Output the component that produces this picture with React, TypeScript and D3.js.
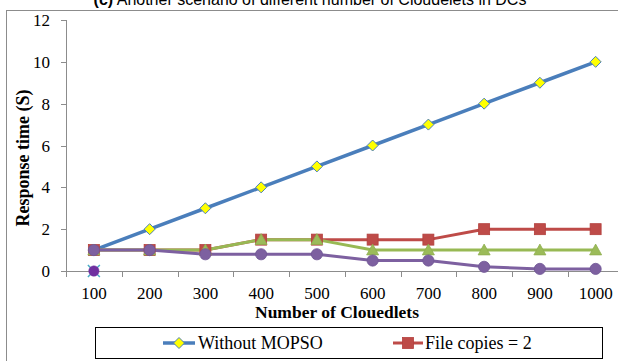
import React from "react";
import * as d3 from "d3";

// Number of cloudlets on the x axis
const categories = ["100", "200", "300", "400", "500", "600", "700", "800", "900", "1000"];

// Response time (S) per series
const withoutMopso = [1, 2, 3, 4, 5, 6, 7, 8, 9, 10];
const fileCopies2 = [1, 1, 1, 1.5, 1.5, 1.5, 1.5, 2, 2, 2];
const fileCopies3 = [1, 1, 1, 1.5, 1.5, 1, 1, 1, 1, 1];
const fileCopies4 = [1, 1, 0.8, 0.8, 0.8, 0.5, 0.5, 0.2, 0.1, 0.1];
const extraA: (number | null)[] = [0, null, null, null, null, null, null, null, null, null];
const extraB: (number | null)[] = [0, null, null, null, null, null, null, null, null, null];

const yTicks = [0, 2, 4, 6, 8, 10, 12];

const W = 618;
const H = 361;
const serif = "Liberation Serif, Times New Roman, serif";

type Marker = "diamond" | "square" | "triangle" | "circle" | "x" | "dot";

function MarkerShape({ kind, x, y, fill, stroke }: { kind: Marker; x: number; y: number; fill: string; stroke: string }) {
  if (kind === "diamond") {
    const s = 5.5;
    return <path d={`M${x},${y - s}L${x + s},${y}L${x},${y + s}L${x - s},${y}Z`} fill={fill} stroke={stroke} strokeWidth={1} />;
  }
  if (kind === "square") {
    const s = 5.5;
    return <rect x={x - s} y={y - s} width={2 * s} height={2 * s} fill={fill} stroke={stroke} strokeWidth={0.8} />;
  }
  if (kind === "triangle") {
    const s = 6;
    return <path d={`M${x},${y - s}L${x + s},${y + s * 0.8}L${x - s},${y + s * 0.8}Z`} fill={fill} stroke={stroke} strokeWidth={0.8} />;
  }
  if (kind === "circle") {
    return <circle cx={x} cy={y} r={5.6} fill={fill} stroke={stroke} strokeWidth={0.8} />;
  }
  if (kind === "x") {
    const s = 6;
    return (
      <path d={`M${x - s},${y - s}L${x + s},${y + s}M${x + s},${y - s}L${x - s},${y + s}`} stroke={stroke} strokeWidth={1.5} fill="none" />
    );
  }
  return <circle cx={x} cy={y} r={5.2} fill={fill} stroke={stroke} strokeWidth={0.5} />;
}

export default function App() {
  const x = d3.scaleBand<string>().domain(categories).range([66, 623.5]).padding(0);
  const y = d3.scaleLinear().domain([0, 12]).range([271, 20]);
  const cx = (c: string) => (x(c) ?? 0) + x.bandwidth() / 2;

  const series: { name: string; values: (number | null)[]; line: string; fill: string; stroke: string; width: number; marker: Marker }[] = [
    { name: "Without MOPSO", values: withoutMopso, line: "#4A7EBB", fill: "#FFFF00", stroke: "#4A7EBB", width: 3.5, marker: "diamond" },
    { name: "File copies = 2", values: fileCopies2, line: "#BE4B48", fill: "#BE4B48", stroke: "#B3403D", width: 3, marker: "square" },
    { name: "File copies = 3", values: fileCopies3, line: "#98B954", fill: "#9BBB59", stroke: "#8FAF4F", width: 3, marker: "triangle" },
    { name: "File copies = 4", values: fileCopies4, line: "#7D60A0", fill: "#7D60A0", stroke: "#6F5594", width: 3, marker: "circle" },
    { name: "extra A", values: extraA, line: "none", fill: "none", stroke: "#4BACC6", width: 0, marker: "x" },
    { name: "extra B", values: extraB, line: "none", fill: "#7030A0", stroke: "#7030A0", width: 0, marker: "dot" },
  ];

  const lineGen = d3
    .line<number | null>()
    .defined((d) => d !== null)
    .x((_, i) => cx(categories[i]))
    .y((d) => y(d as number));

  const boundaries = categories.map((c) => x(c) ?? 0).concat([(x(categories[categories.length - 1]) ?? 0) + x.bandwidth()]);

  return (
    <svg width={W} height={H} style={{ position: "absolute", left: 0, top: 0, background: "#fff" }}>
      {/* outer chart frame */}
      <rect x={6.5} y={10.5} width={640} height={400} fill="none" stroke="#8c8c8c" strokeWidth={1} />

      {/* title */}
      <text x={310} y={5} textAnchor="middle" fontFamily="Liberation Sans, Arial, sans-serif" fontSize={16} fill="#000">
        <tspan fontWeight="bold">(c)</tspan> Another scenario of different number of Cloudelets in DCs
      </text>

      {/* y axis */}
      <line x1={66.5} x2={66.5} y1={y(12)} y2={y(0)} stroke="#8c8c8c" strokeWidth={1} />
      {yTicks.map((t) => (
        <g key={t}>
          <line x1={61} x2={66.5} y1={Math.round(y(t)) + 0.5} y2={Math.round(y(t)) + 0.5} stroke="#8c8c8c" strokeWidth={1} />
          <text x={50} y={y(t) + 6} textAnchor="end" fontFamily={serif} fontSize={17} fill="#000">
            {t}
          </text>
        </g>
      ))}

      {/* x axis */}
      <line x1={66} x2={623.5} y1={271.5} y2={271.5} stroke="#8c8c8c" strokeWidth={1} />
      {boundaries.map((b, i) => (
        <line key={i} x1={Math.round(b) + 0.5} x2={Math.round(b) + 0.5} y1={271.5} y2={277} stroke="#8c8c8c" strokeWidth={1} />
      ))}
      {categories.map((c) => (
        <text key={c} x={cx(c)} y={299} textAnchor="middle" fontFamily={serif} fontSize={17} fill="#000">
          {c}
        </text>
      ))}

      {/* axis titles */}
      <text x={337} y={318} textAnchor="middle" fontFamily={serif} fontSize={17.5} fontWeight="bold" fill="#000">
        Number of Clouedlets
      </text>
      <text
        transform={`translate(29,158) rotate(-90)`}
        textAnchor="middle"
        fontFamily={serif}
        fontSize={18}
        fontWeight="bold"
        fill="#000"
      >
        Response time (S)
      </text>

      {/* series lines */}
      {series.map((s) =>
        s.width > 0 ? (
          <path key={s.name} d={lineGen(s.values) ?? ""} fill="none" stroke={s.line} strokeWidth={s.width} strokeLinejoin="round" strokeLinecap="round" />
        ) : null
      )}
      {/* markers */}
      {series.map((s) => (
        <g key={s.name + "-m"}>
          {s.values.map((v, i) =>
            v === null ? null : <MarkerShape key={i} kind={s.marker} x={cx(categories[i])} y={y(v)} fill={s.fill} stroke={s.stroke} />
          )}
        </g>
      ))}

      {/* legend */}
      <rect x={95.5} y={327.5} width={507} height={31} fill="#fff" stroke="#000" strokeWidth={1} />
      <line x1={163} x2={195} y1={343} y2={343} stroke={series[0].line} strokeWidth={3.5} />
      <MarkerShape kind="diamond" x={179} y={343} fill={series[0].fill} stroke={series[0].stroke} />
      <text x={198} y={349} fontFamily={serif} fontSize={18} fill="#000">
        {series[0].name}
      </text>
      <line x1={393} x2={423} y1={343} y2={343} stroke={series[1].line} strokeWidth={3} />
      <MarkerShape kind="square" x={408} y={343} fill={series[1].fill} stroke={series[1].stroke} />
      <text x={425} y={349} fontFamily={serif} fontSize={18} fill="#000">
        {series[1].name}
      </text>
    </svg>
  );
}
